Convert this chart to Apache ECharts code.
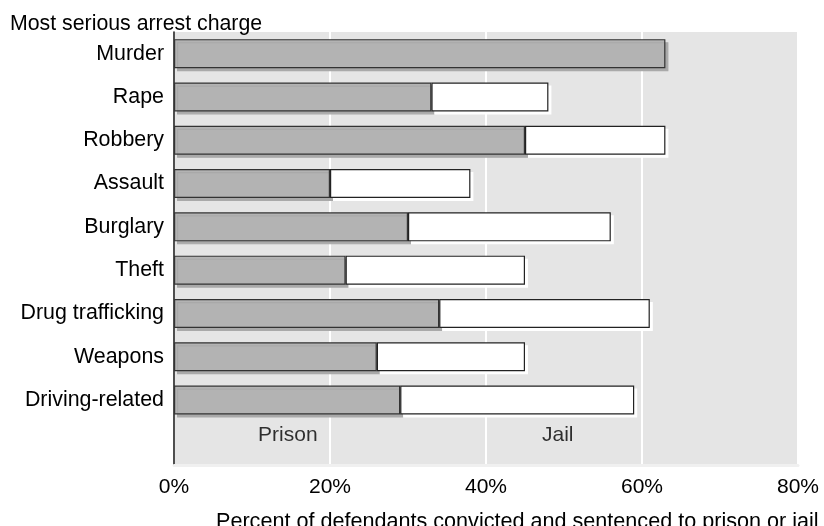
<!DOCTYPE html>
<html>
<head>
<meta charset="utf-8">
<script src="https://cdn.jsdelivr.net/npm/echarts@6/dist/echarts.min.js"></script>
<style>html,body{margin:0;padding:0;background:#fff;}#c{width:824px;height:526px;}</style>
</head>
<body>
<div id="c"></div>
<script>
const categories = ['Murder','Rape','Robbery','Assault','Burglary','Theft','Drug trafficking','Weapons','Driving-related',''];
const prison = [63, 33, 45, 20, 30, 22, 34, 26, 29];
const jail = [0, 15, 18, 18, 26, 23, 27, 19, 30];
const xTicks = [0, 20, 40, 60, 80];
const segmentLabels = ['Prison', 'Jail'];
const segmentLabelX = [14.6, 49.2];

const FONT = 'Liberation Sans, Arial, sans-serif';
const chart = echarts.init(document.getElementById('c'), null, {renderer: 'canvas'});

chart.setOption({
  animation: false,
  backgroundColor: '#ffffff',
  title: [
    {text: 'Most serious arrest charge', left: 5, top: 9,
     textStyle: {fontFamily: FONT, fontSize: 21.3, fontWeight: 'normal', color: '#000'}},
    {text: 'Percent of defendants convicted and sentenced to prison or jail', left: 211, top: 506,
     textStyle: {fontFamily: FONT, fontSize: 21.6, fontWeight: 'normal', color: '#000'}}
  ],
  grid: {left: 174, right: 26, top: 32, bottom: 61, show: true, backgroundColor: '#e5e5e5', borderWidth: 0},
  xAxis: {
    type: 'value', min: xTicks[0], max: xTicks[xTicks.length - 1], interval: 20,
    axisLine: {show: true, lineStyle: {color: '#f0f0f0', width: 3}},
    axisTick: {show: false},
    splitLine: {show: true, lineStyle: {color: '#ffffff', width: 2}},
    axisLabel: {fontFamily: FONT, fontSize: 21, color: '#000', margin: 12, formatter: v => v + '%'}
  },
  yAxis: {
    type: 'category', data: categories, inverse: true,
    axisLine: {show: true, onZero: false, lineStyle: {color: '#222', width: 1.6}},
    axisTick: {show: false},
    splitLine: {show: false},
    axisLabel: {fontFamily: FONT, fontSize: 21.4, color: '#000', margin: 10}
  },
  series: [
    {
      name: 'Prison', type: 'bar', stack: 'total', barCategoryGap: '33%',
      data: prison,
      itemStyle: {color: '#b3b3b3', borderColor: '#333', borderWidth: 1.2,
                  shadowColor: '#a9a9a9', shadowOffsetX: 3, shadowOffsetY: 3, shadowBlur: 0},
      z: 2
    },
    {
      name: 'Jail', type: 'bar', stack: 'total',
      data: jail.map(v => v === 0 ? '-' : v),
      itemStyle: {color: '#ffffff', borderColor: '#222', borderWidth: 1.2,
                  shadowColor: '#ffffff', shadowOffsetX: 3, shadowOffsetY: 3, shadowBlur: 0},
      z: 3
    },
    {
      type: 'scatter', symbolSize: 0, silent: true,
      data: segmentLabels.map((n, i) => ({name: n, value: [segmentLabelX[i], categories[categories.length - 1]]})),
      label: {show: true, position: 'inside', offset: [0, -8], formatter: p => p.name,
              fontFamily: FONT, fontSize: 21, color: '#000'},
      z: 4
    }
  ]
});
</script>
</body>
</html>
